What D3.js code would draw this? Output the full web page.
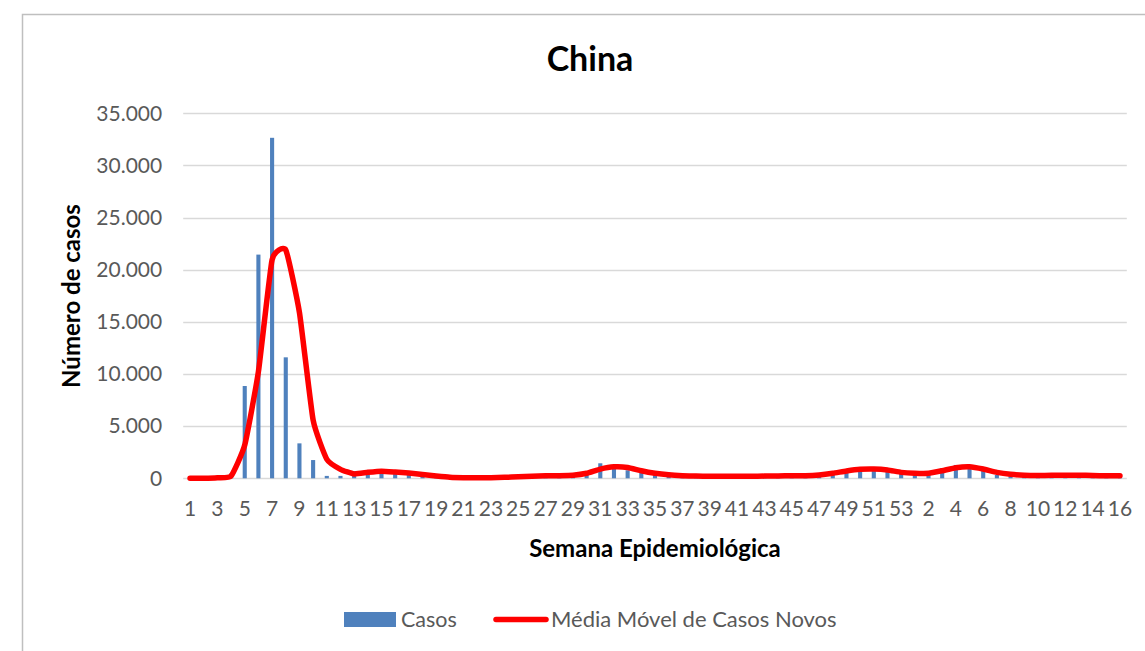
<!DOCTYPE html>
<html><head><meta charset="utf-8">
<script src="https://cdn.jsdelivr.net/npm/d3@7"></script>
<style>
html,body{margin:0;padding:0;background:#fff;}
svg{display:block;}
text{font-family:Lato,"Open Sans",sans-serif;}
</style></head>
<body>
<svg id="chart" width="1145" height="651"></svg>
<script>
const titleText = "China";
const yAxisTitle = "Número de casos";
const xAxisTitle = "Semana Epidemiológica";
const seriesNames = ["Casos", "Média Móvel de Casos Novos"];

const weeks = [1,2,3,4,5,6,7,8,9,10,11,12,13,14,15,16,17,18,19,20,21,22,23,24,25,26,27,28,29,30,
  31,32,33,34,35,36,37,38,39,40,41,42,43,44,45,46,47,48,49,50,51,52,53,
  1,2,3,4,5,6,7,8,9,10,11,12,13,14,15,16];

const casos = [0,0,100,450,8850,21450,32650,11600,3350,1750,230,230,700,680,560,480,400,180,90,40,
  50,60,70,110,200,260,260,250,300,560,1440,1100,770,640,320,250,200,180,170,180,
  190,200,210,230,260,270,300,620,820,900,920,760,450,
  380,640,960,1280,1050,720,320,200,250,280,320,300,250,230,240,220];

const mediaMovel = [0,0,50,220,3190,10220,20950,21900,15900,5580,1830,860,420,570,680,600,500,360,220,100,
  60,60,60,90,140,200,240,250,290,480,880,1100,1040,720,480,330,250,210,190,190,
  190,200,210,220,250,250,320,480,700,860,890,800,570,
  480,480,730,1020,1110,890,570,380,290,270,290,300,290,270,240,240];

const yTicks = [0,5000,10000,15000,20000,25000,30000,35000];

const svg = d3.select("#chart");
const W = 1145, H = 651;
const plot = {left:183.2, right:1126.8, top:113.3, bottom:478.3};

// chart frame (cropped)
svg.append("path").attr("d", `M22.5,${H} V14.5 H${W}`).attr("fill","none").attr("stroke","#BFBFBF").attr("stroke-width",1.5);

const idx = weeks.map((d,i)=>i);
const x = d3.scaleBand().domain(idx).range([plot.left, plot.right]).paddingInner(0.7).paddingOuter(0.35);
const xc = i => x(i) + x.bandwidth()/2;
const y = d3.scaleLinear().domain([0,35000]).range([plot.bottom, plot.top]);

const loc = d3.formatLocale({decimal:",", thousands:".", grouping:[3], currency:["R$",""]});
const fmt = loc.format(",d");

// gridlines
svg.append("g").selectAll("line").data(yTicks).join("line")
  .attr("x1", plot.left).attr("x2", plot.right)
  .attr("y1", d=>Math.round(y(d))+0.5).attr("y2", d=>Math.round(y(d))+0.5)
  .attr("stroke","#D9D9D9").attr("stroke-width",1.3);

// y axis
const yAxis = d3.axisLeft(y).tickValues(yTicks).tickFormat(fmt).tickSize(0).tickPadding(21);
const gy = svg.append("g").attr("transform",`translate(${plot.left},0)`).call(yAxis);
gy.select(".domain").remove();
gy.selectAll("text").attr("fill","#595959").style("font-size","21px").style("font-family","Lato");

// x axis
const xAxis = d3.axisBottom(x).tickValues(idx.filter(i=>i%2===0)).tickFormat(i=>weeks[i]).tickSize(0).tickPadding(23);
const gx = svg.append("g").attr("transform",`translate(0,${plot.bottom})`).call(xAxis);
gx.select(".domain").remove();
gx.selectAll("text").attr("fill","#595959").style("font-size","21px").style("font-family","Lato");

// bars
svg.append("g").selectAll("rect").data(casos).join("rect")
  .attr("x",(d,i)=>x(i)).attr("width",x.bandwidth())
  .attr("y",d=>y(d)).attr("height",d=>y(0)-y(d))
  .attr("fill","#4F81BD");

// line
const line = d3.line().x((d,i)=>xc(i)).y(d=>y(d)).curve(d3.curveCardinal.tension(0.55));
svg.append("path").datum(mediaMovel).attr("d",line)
  .attr("fill","none").attr("stroke","#FF0000").attr("stroke-width",5.5)
  .attr("stroke-linejoin","round").attr("stroke-linecap","round");

// title
svg.append("text").attr("x",590).attr("y",71).attr("text-anchor","middle")
  .style("font-size","34px").style("font-weight","bold").attr("fill","#000").text(titleText);

// axis titles
svg.append("text").attr("x",655).attr("y",557).attr("text-anchor","middle")
  .style("font-size","24px").style("font-weight","bold").attr("fill","#000").text(xAxisTitle);
svg.append("text").attr("transform","translate(80,296) rotate(-90)").attr("text-anchor","middle")
  .style("font-size","24px").style("font-weight","bold").attr("fill","#000").text(yAxisTitle);

// legend
const lg = svg.append("g");
lg.append("rect").attr("x",344).attr("y",612).attr("width",52).attr("height",15).attr("fill","#4F81BD");
lg.append("text").attr("x",401).attr("y",627).style("font-size","21.5px").attr("fill","#595959").text(seriesNames[0]);
lg.append("line").attr("x1",496).attr("x2",546).attr("y1",619.5).attr("y2",619.5)
  .attr("stroke","#FF0000").attr("stroke-width",5.5).attr("stroke-linecap","round");
lg.append("text").attr("x",551).attr("y",627).style("font-size","22px").attr("fill","#595959").text(seriesNames[1]);
</script>
</body></html>
